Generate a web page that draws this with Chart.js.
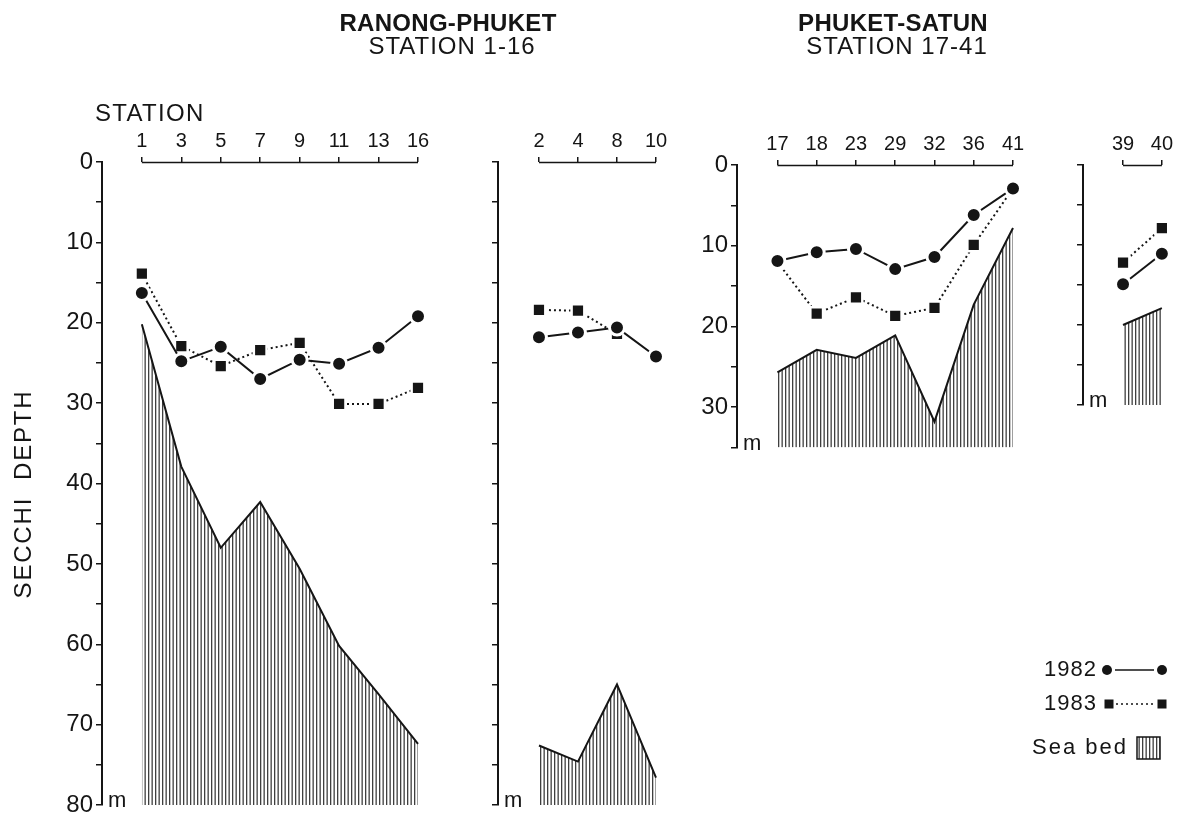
<!DOCTYPE html>
<html>
<head>
<meta charset="utf-8">
<script src="https://cdn.jsdelivr.net/npm/chart.js@4.4.1/dist/chart.umd.min.js"></script>
<style>
  html, body { margin: 0; padding: 0; background: #fff; overflow: hidden; width: 1177px; height: 814px; }
  canvas { position: absolute; left: 0; top: 0; }
</style>
</head>
<body>
<canvas id="panelRP1" width="1177" height="830"></canvas>
<canvas id="panelRP2" width="1177" height="830"></canvas>
<canvas id="panelPS1" width="1177" height="830"></canvas>
<canvas id="panelPS2" width="1177" height="830"></canvas>
<script>
// Secchi depth and sea-bed depth (m) along the Andaman coast transects

// Ranong-Phuket, odd stations
const stationsRP1 = ['1', '3', '5', '7', '9', '11', '13', '16'];
const secchi1982RP1 = [16.3, 24.8, 23.0, 27.0, 24.6, 25.1, 23.1, 19.2];
const secchi1983RP1 = [13.9, 22.9, 25.4, 23.4, 22.5, 30.1, 30.1, 28.1];
const seabedRP1 = [20.2, 37.9, 48.0, 42.3, 50.6, 60.2, 66.2, 72.4];

// Ranong-Phuket, even stations
const stationsRP2 = ['2', '4', '8', '10'];
const secchi1982RP2 = [21.8, 21.2, 20.6, 24.2];
const secchi1983RP2 = [18.4, 18.5, 21.4, null];
const seabedRP2 = [72.6, 74.6, 65.0, 76.6];

// Phuket-Satun
const stationsPS1 = ['17', '18', '23', '29', '32', '36', '41'];
const secchi1982PS1 = [11.9, 10.8, 10.4, 12.9, 11.4, 6.2, 2.9];
const secchi1983PS1 = [12.0, 18.4, 16.4, 18.7, 17.7, 9.9, 2.9];
const seabedPS1 = [25.7, 22.9, 23.9, 21.1, 31.8, 17.3, 7.8];

// Phuket-Satun, stations 39-40
const stationsPS2 = ['39', '40'];
const secchi1982PS2 = [14.9, 11.1];
const secchi1983PS2 = [12.2, 7.9];
const seabedPS2 = [20.0, 17.9];

// Depth axis tick labels
const depthLabelsDeep = [0, 10, 20, 30, 40, 50, 60, 70, 80];
const depthLabelsShallow = [0, 10, 20, 30];

const INK = '#151515';
const FONT = "'Liberation Sans', Arial, Helvetica, sans-serif";
const CANVAS_W = 1177, CANVAS_H = 830;

Chart.defaults.font.family = FONT;
Chart.defaults.color = INK;

// vertical-line hatching for the sea bed
function makeHatch() {
  const c = document.createElement('canvas');
  c.width = 7; c.height = 4;
  const g = c.getContext('2d');
  g.fillStyle = 'rgba(15,15,15,0.8)';
  g.fillRect(1, 0, 1.3, 4);
  g.fillRect(4.5, 0, 1.3, 4);
  return g.createPattern(c, 'repeat');
}
const HATCH = makeHatch();

// station bracket along the top and the unit mark at the foot of the depth axis
const bracketPlugin = {
  id: 'bracket',
  afterDraw(chart) {
    const { ctx, chartArea } = chart;
    const x = chart.scales.x;
    ctx.save();
    ctx.strokeStyle = INK;
    ctx.lineWidth = 1.5;
    ctx.beginPath();
    ctx.moveTo(x.getPixelForValue(0), chartArea.top + 0.5);
    ctx.lineTo(x.getPixelForValue(x.max), chartArea.top + 0.5);
    ctx.stroke();
    ctx.fillStyle = INK;
    ctx.font = '22px ' + FONT;
    ctx.textAlign = 'left';
    ctx.textBaseline = 'alphabetic';
    ctx.fillText('m', chartArea.left + 6, chartArea.bottom + 2);
    ctx.restore();
  }
};

function spaced(ctx, font, spacing) {
  ctx.font = font;
  ctx.letterSpacing = spacing + 'px';
}

// titles, axis captions and key
const captionsPlugin = {
  id: 'captions',
  afterDraw(chart) {
    const ctx = chart.ctx;
    ctx.save();
    ctx.fillStyle = INK;
    ctx.strokeStyle = INK;
    ctx.textBaseline = 'middle';

    ctx.textAlign = 'center';
    spaced(ctx, 'bold 24px ' + FONT, 0.3);
    ctx.fillText('RANONG-PHUKET', 448, 24);
    ctx.fillText('PHUKET-SATUN', 893, 24);
    spaced(ctx, '24px ' + FONT, 1);
    ctx.fillText('STATION 1-16', 452, 47);
    ctx.fillText('STATION 17-41', 897, 47);

    ctx.textAlign = 'left';
    spaced(ctx, '24px ' + FONT, 1.3);
    ctx.fillText('STATION', 95, 114);

    ctx.save();
    ctx.translate(24, 494);
    ctx.rotate(-Math.PI / 2);
    ctx.textAlign = 'center';
    spaced(ctx, '24px ' + FONT, 1.8);
    ctx.fillText('SECCHI  DEPTH', 0, 0);
    ctx.restore();

    // key
    ctx.textAlign = 'right';
    spaced(ctx, '22px ' + FONT, 1);
    ctx.fillText('1982', 1097, 670);
    ctx.fillText('1983', 1097, 704);
    spaced(ctx, '22px ' + FONT, 2);
    ctx.fillText('Sea bed', 1128, 748);

    ctx.lineWidth = 1.6;
    ctx.beginPath(); ctx.arc(1107, 670, 5, 0, Math.PI * 2); ctx.fill();
    ctx.beginPath(); ctx.arc(1162, 670, 5, 0, Math.PI * 2); ctx.fill();
    ctx.beginPath(); ctx.moveTo(1115, 670); ctx.lineTo(1154, 670); ctx.stroke();

    ctx.fillRect(1104.5, 699.5, 9, 9);
    ctx.fillRect(1157.5, 699.5, 9, 9);
    ctx.setLineDash([2, 3]);
    ctx.beginPath(); ctx.moveTo(1116, 704); ctx.lineTo(1155, 704); ctx.stroke();
    ctx.setLineDash([]);

    ctx.fillStyle = HATCH;
    ctx.fillRect(1137, 737, 23, 22);
    ctx.lineWidth = 1.5;
    ctx.strokeRect(1137, 737, 23, 22);
    ctx.restore();
  }
};

const toPoints = arr => arr.map((v, i) => ({ x: i, y: v }));

function makePanel(id, p) {
  return new Chart(document.getElementById(id), {
    type: 'line',
    data: {
      datasets: [
        {
          label: '1982', data: toPoints(p.y1982),
          borderColor: INK, borderWidth: 2,
          pointStyle: 'circle', pointRadius: 7.5,
          pointBackgroundColor: INK, pointBorderColor: '#fff', pointBorderWidth: 3,
          clip: false
        },
        {
          label: '1983', data: toPoints(p.y1983),
          borderColor: INK, borderWidth: 2, borderDash: [2, 3],
          pointStyle: 'rect', pointRadius: 9,
          pointBackgroundColor: INK, pointBorderColor: '#fff', pointBorderWidth: 2.5,
          clip: false
        },
        {
          label: 'Sea bed', data: toPoints(p.bed),
          borderColor: INK, borderWidth: 2, pointRadius: 0,
          backgroundColor: HATCH, fill: { value: p.maxDepth },
          clip: false
        }
      ]
    },
    options: {
      responsive: false,
      animation: false,
      events: [],
      layout: {
        padding: {
          left: 0,
          top: p.top - 40,
          right: CANVAS_W - p.right,
          bottom: CANVAS_H - p.bottom
        }
      },
      plugins: { legend: { display: false }, tooltip: { enabled: false } },
      scales: {
        x: {
          type: 'linear', position: 'top',
          min: p.xMin, max: p.stations.length - 1,
          afterBuildTicks: s => { s.ticks = p.stations.map((_, i) => ({ value: i })); },
          afterFit: s => { s.height = 40; },
          ticks: {
            callback: v => p.stations[v],
            font: { size: 20, family: FONT }, color: INK,
            padding: 4, autoSkip: false, maxRotation: 0
          },
          grid: { drawOnChartArea: false, drawTicks: true, tickLength: 5, color: INK, lineWidth: 1.5 },
          border: { display: false }
        },
        y: {
          type: 'linear', reverse: true, min: 0, max: p.maxDepth,
          afterBuildTicks: s => {
            const t = [];
            for (let v = 0; v <= p.maxDepth; v += 5) t.push({ value: v });
            s.ticks = t;
          },
          afterFit: s => { s.width = p.left; },
          ticks: {
            callback: v => (p.depthLabels.includes(v) ? String(v) : ''),
            font: { size: 24, family: FONT }, color: INK, padding: 3
          },
          grid: { drawOnChartArea: false, drawTicks: true, tickLength: 6, color: INK, lineWidth: 1.5 },
          border: { display: true, color: INK, width: 2 }
        }
      }
    },
    plugins: p.extra ? [bracketPlugin, p.extra] : [bracketPlugin]
  });
}

makePanel('panelRP1', {
  stations: stationsRP1, y1982: secchi1982RP1, y1983: secchi1983RP1, bed: seabedRP1,
  maxDepth: 80, depthLabels: depthLabelsDeep,
  left: 102, top: 162, right: 418, bottom: 805, xMin: -1.01,
  extra: captionsPlugin
});

makePanel('panelRP2', {
  stations: stationsRP2, y1982: secchi1982RP2, y1983: secchi1983RP2, bed: seabedRP2,
  maxDepth: 80, depthLabels: [],
  left: 498, top: 162, right: 656, bottom: 805, xMin: -1.05
});

makePanel('panelPS1', {
  stations: stationsPS1, y1982: secchi1982PS1, y1983: secchi1983PS1, bed: seabedPS1,
  maxDepth: 35, depthLabels: depthLabelsShallow,
  left: 737, top: 165, right: 1013, bottom: 447.5, xMin: -1.03
});

makePanel('panelPS2', {
  stations: stationsPS2, y1982: secchi1982PS2, y1983: secchi1983PS2, bed: seabedPS2,
  maxDepth: 30, depthLabels: [],
  left: 1083, top: 165, right: 1162, bottom: 405, xMin: -1.03
});
</script>
</body>
</html>
